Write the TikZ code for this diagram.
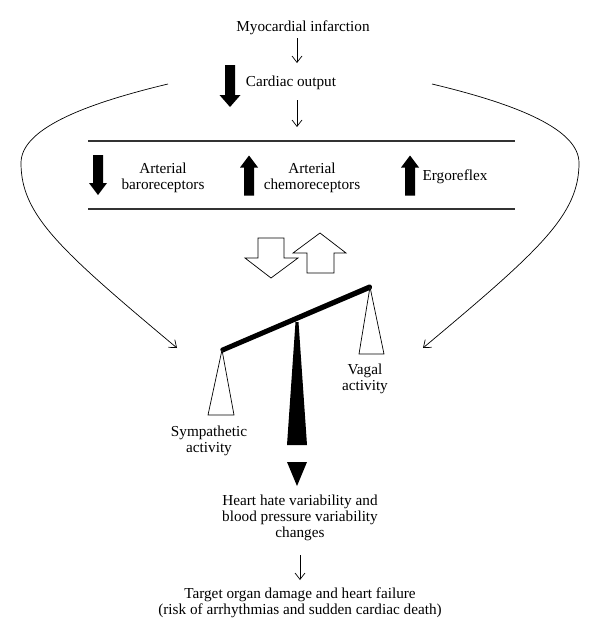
\documentclass[tikz,border=0pt]{standalone}
\usepackage{fontspec}
\setmainfont{Liberation Serif}
\usetikzlibrary{arrows.meta}
\tikzset{
  bigdown/.pic={\fill (-5,-21) -- (5,-21) -- (5,9) -- (10.5,9) -- (0,21) -- (-10.5,9) -- (-5,9) -- cycle;},
  smalldown/.pic={\fill (-5,-20) -- (5,-20) -- (5,8) -- (9,8) -- (0,20) -- (-9,8) -- (-5,8) -- cycle;},
  smallup/.pic={\fill (-5,20) -- (5,20) -- (5,-8) -- (9,-8) -- (0,-20) -- (-9,-8) -- (-5,-8) -- cycle;},
  lbl/.style={inner sep=0pt, align=center, font=\fontsize{13}{13.6}\selectfont},
  tarr/.style={line width=0.6pt, -{Straight Barb[length=5.5pt,width=8.5pt]}},
  rulez/.style={line width=0.9pt, black!80},
  pan/.style={draw, line width=0.6pt, fill=white, line join=miter},
  hollow/.style={draw, line width=0.6pt, fill=white, line join=miter}
}
\begin{document}
\begin{tikzpicture}[x=0.03cm,y=-0.03cm]
\useasboundingbox (0,0) rectangle (600,643);

% texts
\node[lbl] (mi) at (303,28) {Myocardial infarction};
\node[lbl] (co) at (291,83) {Cardiac output};
\node[lbl] (baro) at (163,178) {Arterial\\baroreceptors};
\node[lbl] (chemo) at (312,178) {Arterial\\chemoreceptors};
\node[lbl] (ergo) at (455,177) {Ergoreflex};
\node[lbl] (vagal) at (365,379) {Vagal\\activity};
\node[lbl] (symp) at (209,441) {Sympathetic\\activity};
\node[lbl] (hrv) at (300,518) {Heart hate variability and\\blood pressure variability\\changes};
\node[lbl] (target) at (300,603) {Target organ damage and heart failure\\(risk of arrhythmias and sudden cardiac death)};

% block arrows
\pic (coarrow) at (230,86) {bigdown};
\pic (baroarrow) at (98,175) {smalldown};
\pic (chemoarrow) at (249,175.5) {smallup};
\pic (ergoarrow) at (410,175.5) {smallup};

% rules
\coordinate (r1l) at (88,141); \coordinate (r1r) at (515,141);
\coordinate (r2l) at (88,209); \coordinate (r2r) at (515,209);
\draw[rulez] (r1l) -- (r1r);
\draw[rulez] (r2l) -- (r2r);

% thin straight arrows
\coordinate (a1s) at (297,38); \coordinate (a1e) at (297,63);
\coordinate (a2s) at (297,100); \coordinate (a2e) at (297,127);
\coordinate (a3s) at (300,555); \coordinate (a3e) at (300,580);
\draw[tarr] (a1s) -- (a1e);
\draw[tarr] (a2s) -- (a2e);
\draw[tarr] (a3s) -- (a3e);

% curved arrows
\coordinate (lcs) at (168,84); \coordinate (lce) at (177,348);
\coordinate (rcs) at (432,84); \coordinate (rce) at (423,348);
\draw[tarr] (lcs) .. controls (80,105) and (21,130) .. (21,163) .. controls (21,215) and (60,250) .. (lce);
\draw[tarr] (rcs) .. controls (520,105) and (579,130) .. (579,163) .. controls (579,215) and (540,250) .. (rce);

% hollow arrows
\draw[hollow] (258,238) -- (284,238) -- (284,258) -- (298,258) -- (271,278) -- (245,258) -- (258,258) -- cycle;
\draw[hollow] (307,273) -- (334,273) -- (334,253) -- (346,253) -- (320,233) -- (293,253) -- (307,253) -- cycle;

% balance
\coordinate (bl) at (222,350); \coordinate (br) at (370,287);
\fill (295.5,322) -- (298.5,322) -- (307,445) -- (287,445) -- cycle;
\fill[line join=round] (221,348) -- (369,284.5) .. controls (372,284) and (373,288) .. (371,289.5) -- (223,352.5) .. controls (221,353) and (219.5,349) .. cycle;
\draw[pan] (bl) -- (234,415) -- (208,415) -- cycle;
\draw[pan] (br) -- (384,354) -- (359,354) -- cycle;
\fill (287,462) -- (307,462) -- (297,486) -- cycle;
\end{tikzpicture}
\end{document}
